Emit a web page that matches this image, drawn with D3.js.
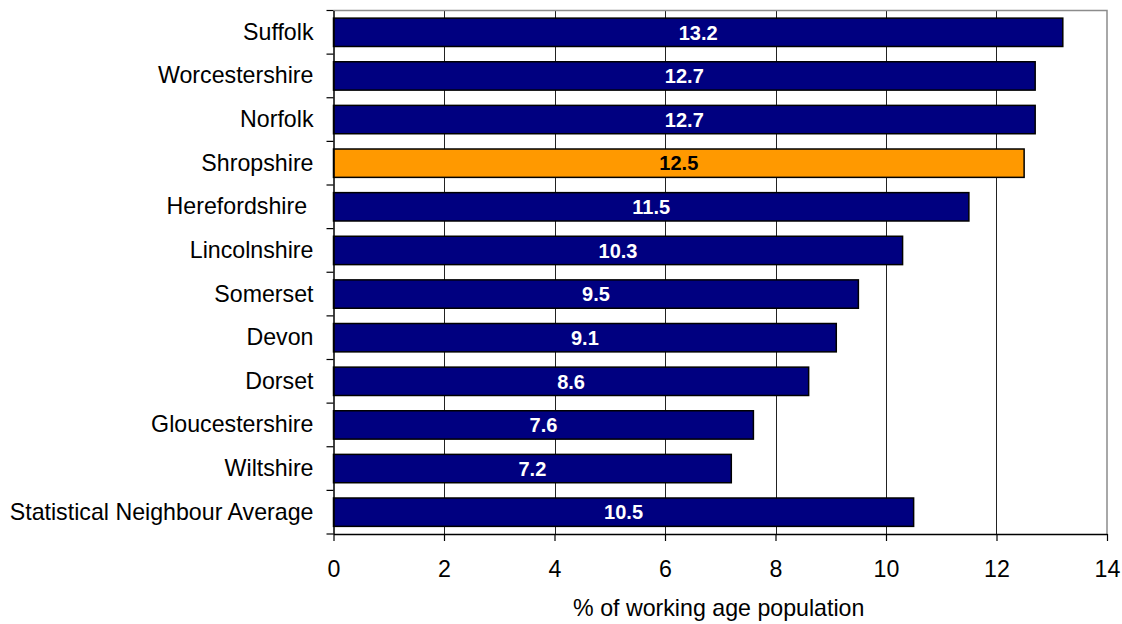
<!DOCTYPE html>
<html>
<head>
<meta charset="utf-8">
<script src="https://cdn.jsdelivr.net/npm/d3@7"></script>
<style>
  body { margin: 0; background: #fff; }
  svg { display: block; font-family: "Liberation Sans", Arial, sans-serif; }
  text { white-space: pre; }
</style>
</head>
<body>
<svg id="chart" width="1122" height="624"></svg>
<script>
// Areas and their share of working age population (%)
const areas = ["Suffolk", "Worcestershire", "Norfolk", "Shropshire", "Herefordshire ",
  "Lincolnshire", "Somerset", "Devon", "Dorset", "Gloucestershire", "Wiltshire",
  "Statistical Neighbour Average"];
const values = [13.2, 12.7, 12.7, 12.5, 11.5, 10.3, 9.5, 9.1, 8.6, 7.6, 7.2, 10.5];
const highlight = ["Shropshire"];
const xTicks = [0, 2, 4, 6, 8, 10, 12, 14];
const xTitle = "% of working age population";

(function () {
const svg = d3.select("#chart");
const mLeft = 333.5, mRight = 1107, mTop = 10.5, mBottom = 534;
const fontFamily = "Liberation Sans, Arial, sans-serif";
const labelSize = 23.2;

const x = d3.scaleLinear().domain([0, 14]).range([mLeft, mRight]);
const y = d3.scaleBand().domain(areas).range([mTop, mBottom]).paddingInner(0.35).paddingOuter(0.175);

// vertical gridlines
svg.append("g").selectAll("line").data(xTicks.filter(t => t > 0 && t < 14)).join("line")
  .attr("x1", d => Math.round(x(d)) + 0.5).attr("x2", d => Math.round(x(d)) + 0.5)
  .attr("y1", mTop).attr("y2", mBottom)
  .attr("stroke", "#222").attr("stroke-width", 1);

// top and right frame
svg.append("path")
  .attr("d", `M${mLeft},${mTop}H${mRight}V${mBottom}`)
  .attr("fill", "none").attr("stroke", "#8c8c8c").attr("stroke-width", 1.5);

// bars
svg.append("g").selectAll("rect").data(areas).join("rect")
  .attr("x", x(0))
  .attr("y", d => y(d))
  .attr("width", (d, i) => x(values[i]) - x(0))
  .attr("height", y.bandwidth())
  .attr("fill", d => highlight.includes(d) ? "#ff9900" : "#000080")
  .attr("stroke", "#000").attr("stroke-width", 1.5);

// value labels
svg.append("g").selectAll("text").data(areas).join("text")
  .attr("x", (d, i) => (x(0) + x(values[i])) / 2)
  .attr("y", d => y(d) + y.bandwidth() / 2)
  .attr("dy", "0.36em")
  .attr("text-anchor", "middle")
  .attr("font-family", fontFamily)
  .attr("font-size", 20).attr("font-weight", "bold")
  .attr("fill", d => highlight.includes(d) ? "#000" : "#fff")
  .text((d, i) => values[i].toFixed(1));

// x axis
const xAxis = svg.append("g").attr("transform", `translate(0,${mBottom})`)
  .call(d3.axisBottom(x).tickValues(xTicks).tickSize(7).tickPadding(19.5).tickSizeOuter(0));
xAxis.select(".domain").attr("stroke", "#000").attr("stroke-width", 1.5);
xAxis.selectAll(".tick line").attr("stroke", "#000").attr("stroke-width", 1.2);
xAxis.selectAll("text").attr("font-size", labelSize).attr("fill", "#000")
  .attr("font-family", fontFamily);

// y axis
const yAxis = svg.append("g").attr("transform", `translate(${mLeft},0)`)
  .call(d3.axisLeft(y).tickSize(0).tickPadding(20));
yAxis.select(".domain").attr("stroke", "#000").attr("stroke-width", 1.5);
yAxis.selectAll("text").attr("font-size", labelSize).attr("fill", "#000")
  .attr("font-family", fontFamily);

// category boundary ticks
const bounds = d3.range(areas.length + 1).map(i => mTop + i * (mBottom - mTop) / areas.length);
svg.append("g").selectAll("line").data(bounds).join("line")
  .attr("x1", mLeft - 7).attr("x2", mLeft)
  .attr("y1", d => d).attr("y2", d => d)
  .attr("stroke", "#000").attr("stroke-width", 1.2);

// axis title
svg.append("text")
  .attr("x", (mLeft + mRight) / 2 - 1.5).attr("y", 616)
  .attr("text-anchor", "middle").attr("font-size", labelSize).attr("fill", "#000")
  .attr("font-family", fontFamily)
  .text(xTitle);
})();
</script>
</body>
</html>
